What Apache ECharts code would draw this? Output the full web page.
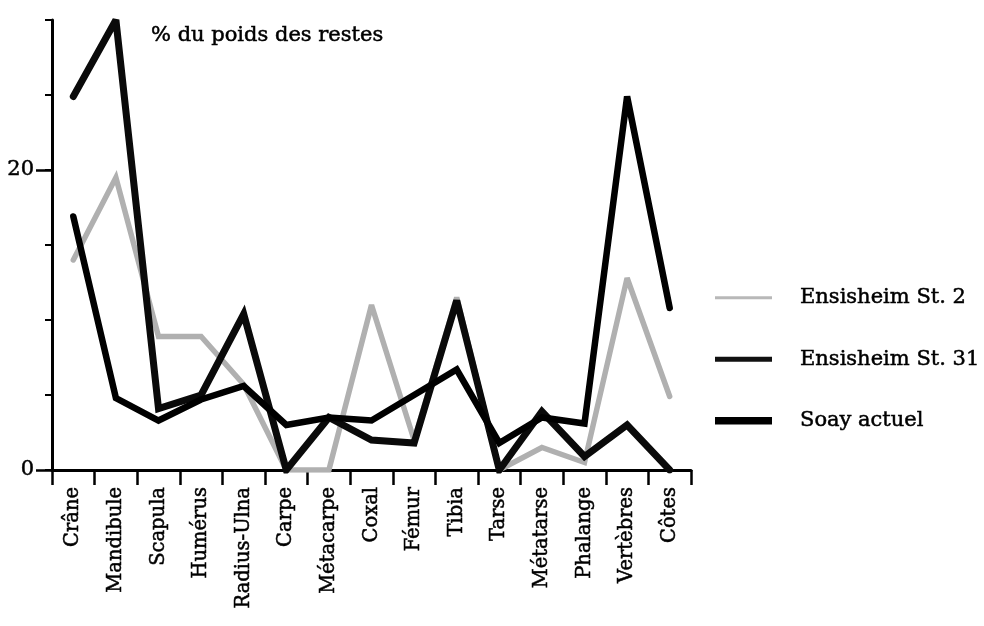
<!DOCTYPE html>
<html>
<head>
<meta charset="utf-8">
<script src="https://cdn.jsdelivr.net/npm/echarts@6/dist/echarts.min.js"></script>
<style>html,body{margin:0;padding:0;background:#fff;}#c{width:984px;height:626px;}</style>
</head>
<body>
<div id="c"></div>
<script>
const categories = ['Crâne','Mandibule','Scapula','Humérus','Radius-Ulna','Carpe','Métacarpe','Coxal','Fémur','Tibia','Tarse','Métatarse','Phalange','Vertèbres','Côtes'];
const ensisheim2 = [14, 19.5, 8.9, 8.9, 5.7, 0, 0, 11, 2, 11.5, 0, 1.5, 0.5, 12.8, 4.9];
const ensisheim31 = [24.9, 30, 4.1, 5.0, 10.4, 0, 3.5, 2.0, 1.8, 11.3, 0, 3.9, 0.9, 3.0, 0];
const soay = [16.9, 4.8, 3.3, 4.7, 5.6, 3.0, 3.5, 3.3, 5.0, 6.7, 1.8, 3.5, 3.1, 24.9, 10.8];
const yLabelValues = [0, 20];
const seriesNames = ['Ensisheim St. 2', 'Ensisheim St. 31', 'Soay actuel'];
const yTitle = '% du poids des restes';

const FONT = 'DejaVu Serif';
const ink = {textBorderColor: '#000', textBorderWidth: 0.5};
const chart = echarts.init(document.getElementById('c'), null, {renderer: 'canvas'});
const lineBase = {type: 'line', symbol: 'none', smooth: false, animation: false, z: 2};
chart.setOption({
  animation: false,
  backgroundColor: '#fff',
  title: {
    text: yTitle, left: 146, top: 20,
    textStyle: Object.assign({fontFamily: FONT, fontSize: 21, fontWeight: 'normal', color: '#000'}, ink)
  },
  legend: {
    orient: 'vertical', left: 715, top: 287, padding: 0,
    itemWidth: 57, itemHeight: 20, itemGap: 40,
    textStyle: Object.assign({fontFamily: FONT, fontSize: 21, color: '#000', padding: [0, 0, 0, 23], lineHeight: 20}, ink),
    data: [
      {name: seriesNames[0], icon: 'path://M0,0H57V3H0Z', itemStyle: {color: '#b8b8b8'}},
      {name: seriesNames[1], icon: 'path://M0,0H57V5H0Z', itemStyle: {color: '#111'}},
      {name: seriesNames[2], icon: 'path://M0,0H57V7.5H0Z', itemStyle: {color: '#000'}}
    ]
  },
  grid: {left: 52, right: 293, top: 20, bottom: 156, containLabel: false},
  xAxis: {
    type: 'category', data: categories, boundaryGap: true,
    axisLine: {lineStyle: {color: '#000', width: 3}},
    axisTick: {show: true, length: 15, lineStyle: {color: '#000', width: 2.5}},
    axisLabel: Object.assign({rotate: 90, margin: 17, fontFamily: FONT, fontSize: 19.5, color: '#000', interval: 0}, ink)
  },
  yAxis: [
    {
      type: 'value', min: 0, max: 30, interval: 5,
      axisLine: {show: true, lineStyle: {color: '#000', width: 3}},
      axisTick: {show: true, length: 7, lineStyle: {color: '#000', width: 2}},
      axisLabel: {show: false},
      splitLine: {show: false}
    },
    {
      type: 'value', min: 0, max: 30, interval: 5, position: 'left',
      axisLine: {show: false},
      axisTick: {show: true, length: 16, customValues: yLabelValues, lineStyle: {color: '#000', width: 2.5}},
      axisLabel: Object.assign({show: true, customValues: yLabelValues, margin: 18, fontFamily: FONT, fontSize: 21, color: '#000'}, ink),
      splitLine: {show: false}
    }
  ],
  series: [
    Object.assign({}, lineBase, {name: seriesNames[0], data: ensisheim2,
      lineStyle: {color: '#b0b0b0', width: 5.5, cap: 'round', join: 'miter', miterLimit: 3}, itemStyle: {color: '#b8b8b8'}}),
    Object.assign({}, lineBase, {name: seriesNames[1], data: ensisheim31,
      lineStyle: {color: '#0a0a0a', width: 7, cap: 'round', join: 'miter', miterLimit: 3}, itemStyle: {color: '#111'}}),
    Object.assign({}, lineBase, {name: seriesNames[2], data: soay,
      lineStyle: {color: '#000', width: 6.5, cap: 'round', join: 'miter', miterLimit: 3}, itemStyle: {color: '#000'}})
  ]
});
</script>
</body>
</html>
